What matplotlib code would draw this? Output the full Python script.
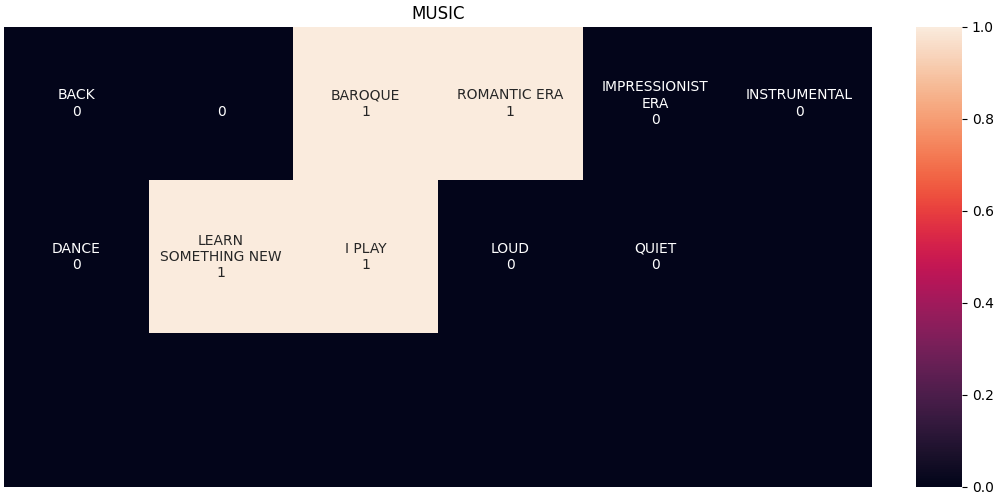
import matplotlib
matplotlib.use("Agg")
import matplotlib.pyplot as plt
import seaborn as sns
import numpy as np

title = "MUSIC"
values = [
    [0, 0, 1, 1, 0, 0],
    [0, 1, 1, 0, 0, 0],
    [0, 0, 0, 0, 0, 0],
]
labels = [
    ["BACK\n0", "\n0", "BAROQUE\n1", "ROMANTIC ERA\n1", "IMPRESSIONIST\nERA\n0", "INSTRUMENTAL\n0"],
    ["DANCE\n0", "LEARN\nSOMETHING NEW\n1", "I PLAY\n1", "LOUD\n0", "QUIET\n0", ""],
    ["", "", "", "", "", ""],
]

data = np.array(values, dtype=float)
annot = np.array(labels, dtype=object)

fig = plt.figure(figsize=(10, 5), dpi=100)
ax = fig.add_axes([0.004, 0.027, 0.868, 0.919])
cax = fig.add_axes([0.916, 0.027, 0.046, 0.919])
sns.heatmap(data, annot=annot, fmt="", ax=ax, cbar_ax=cax, vmin=0, vmax=1,
            xticklabels=False, yticklabels=False)
ax.set_title(title)
fig.savefig("out.png", dpi=100)
